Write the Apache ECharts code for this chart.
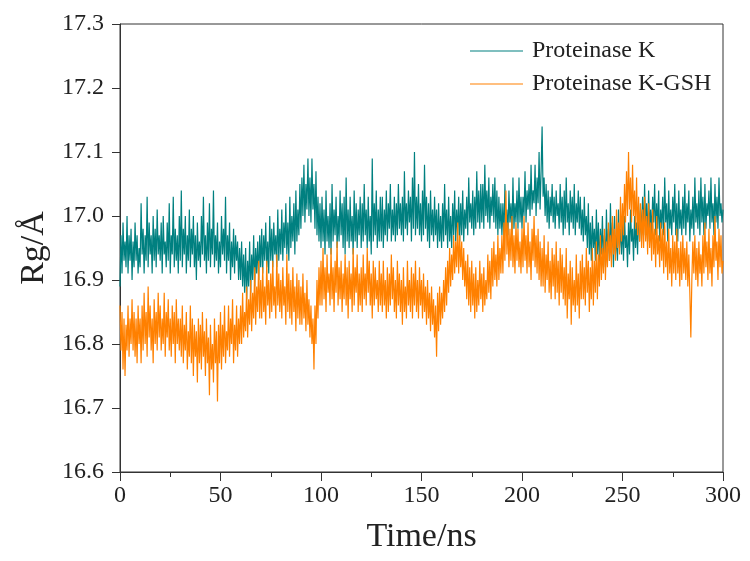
<!DOCTYPE html>
<html><head><meta charset="utf-8">
<script src="https://cdn.jsdelivr.net/npm/echarts@6/dist/echarts.min.js"></script>
<style>html,body{margin:0;padding:0;background:#fff}#c{width:750px;height:561px}</style>
</head><body><div id="c"></div>
<script>
// Time step of the trajectory (ns) and the two Rg series (Å), one value per 0.5 ns from 0 to 300 (20 values = 10 ns per row)
const timeStepNs = 0.5;
const xTicks = [0, 50, 100, 150, 200, 250, 300];
const yTicks = [16.6, 16.7, 16.8, 16.9, 17.0, 17.1, 17.2, 17.3];
const seriesNames = ['Proteinase K', 'Proteinase K-GSH'];
const rgProteinaseK = [
16.89,16.97,16.91,16.99,16.93,16.96,16.92,17.00,16.91,16.97,16.93,16.98,16.90,16.96,16.92,16.99,16.93,16.97,16.91,16.95,
16.92,17.02,16.94,16.98,16.91,16.97,16.93,17.03,16.92,16.99,16.94,16.97,16.91,17.00,16.93,16.98,16.92,17.01,16.94,16.97,
16.93,16.99,16.91,17.00,16.94,16.96,16.92,16.99,16.93,17.02,16.91,16.97,16.94,17.03,16.92,16.98,16.93,16.97,16.91,17.00,
16.93,17.04,16.92,16.98,16.94,17.00,16.91,16.97,16.93,17.01,16.92,16.98,16.94,17.00,16.92,16.97,16.90,16.99,16.93,16.96,
16.92,17.00,16.94,17.03,16.93,16.97,16.91,16.99,16.93,17.02,16.92,16.98,16.94,17.04,16.92,16.97,16.93,16.99,16.91,16.96,
16.92,17.00,16.94,16.98,16.93,17.03,16.91,16.97,16.93,16.99,16.90,16.96,16.92,16.98,16.91,16.97,16.93,16.96,16.90,16.95,
16.90,16.96,16.89,16.94,16.88,16.95,16.87,16.93,16.89,16.96,16.88,16.94,16.90,16.97,16.89,16.95,16.91,16.96,16.90,16.97,
16.92,16.98,16.91,16.97,16.93,16.99,16.92,16.96,16.91,17.00,16.93,16.98,16.92,16.99,16.94,16.97,16.92,17.01,16.93,16.98,
16.94,17.01,16.93,16.99,16.95,17.02,16.94,16.99,16.93,17.03,16.95,17.00,16.96,17.02,16.94,17.04,16.96,17.01,16.97,17.05,
16.98,17.06,17.00,17.08,16.99,17.05,17.01,17.09,17.00,17.06,16.99,17.09,17.01,17.05,16.98,17.07,16.97,17.03,16.96,17.02,
16.95,17.03,16.96,17.01,16.94,17.04,16.96,17.00,16.95,17.02,16.94,17.05,16.96,17.01,16.97,17.03,16.95,17.00,16.96,17.04,
16.97,17.02,16.95,17.03,16.94,17.06,16.96,17.01,16.95,17.03,16.96,17.00,16.94,17.04,16.96,17.02,16.95,17.01,16.97,17.03,
16.95,17.02,16.96,17.05,16.97,17.01,16.95,17.03,16.96,17.00,16.94,17.09,16.96,17.02,16.97,17.04,16.95,17.01,16.96,17.03,
16.96,17.03,16.95,17.01,16.97,17.04,16.96,17.02,16.98,17.05,16.96,17.01,16.97,17.03,16.96,17.02,16.97,17.05,16.98,17.02,
16.97,17.03,16.96,17.07,16.98,17.02,16.97,17.04,16.99,17.03,16.96,17.06,16.98,17.10,16.97,17.03,16.98,17.05,16.97,17.02,
16.96,17.04,16.97,17.08,16.98,17.03,16.96,17.02,16.95,17.04,16.97,17.01,16.96,17.03,16.97,17.01,16.95,17.02,16.96,17.00,
16.95,17.02,16.96,17.05,16.97,17.01,16.95,17.03,16.96,17.00,16.95,17.02,16.97,17.04,16.96,17.01,16.97,17.03,16.96,17.02,
16.97,17.04,16.96,17.01,16.98,17.03,16.97,17.06,16.99,17.02,16.98,17.04,16.97,17.03,16.98,17.07,16.99,17.04,16.98,17.05,
16.99,17.05,16.98,17.08,17.00,17.04,16.99,17.06,16.98,17.03,17.00,17.05,16.99,17.06,16.98,17.04,16.97,17.03,16.98,17.02,
16.97,17.02,16.96,17.05,16.98,17.01,16.97,17.04,16.99,17.02,16.97,17.06,16.98,17.02,16.99,17.04,16.98,17.06,16.99,17.03,
16.98,17.03,17.00,17.07,16.99,17.04,17.01,17.05,17.00,17.08,17.01,17.04,17.02,17.08,17.00,17.06,17.02,17.10,17.01,17.07,
17.14,17.03,17.06,17.00,17.05,16.99,17.04,16.98,17.03,17.00,17.05,16.99,17.03,16.98,17.04,17.00,17.02,16.98,17.05,16.99,
17.03,16.97,17.04,16.98,17.06,16.99,17.02,16.97,17.04,16.99,17.03,16.98,17.05,16.97,17.02,16.99,17.04,16.98,17.03,16.97,
17.01,16.96,17.03,16.97,17.00,16.95,17.02,16.94,16.99,16.93,17.00,16.95,16.98,16.93,17.01,16.94,16.99,16.92,16.98,16.94,
17.00,16.93,16.97,16.92,17.01,16.94,16.98,16.93,17.02,16.95,16.99,16.92,17.00,16.94,16.97,16.93,17.01,16.95,16.98,16.94,
16.99,16.93,17.00,16.95,16.97,16.92,16.99,16.94,17.01,16.96,16.98,16.93,17.00,16.95,16.99,16.94,17.02,16.96,17.01,16.97,
17.03,16.97,17.05,16.98,17.02,16.96,17.04,16.98,17.01,16.97,17.03,16.99,17.05,16.97,17.02,16.98,17.04,16.96,17.01,16.98,
17.03,16.97,17.06,16.99,17.02,16.96,17.04,16.98,17.01,16.97,17.03,16.99,17.05,16.97,17.02,16.96,17.04,16.98,17.01,16.97,
17.03,16.98,17.05,16.97,17.02,16.99,17.04,16.96,17.01,16.98,17.03,16.97,17.06,16.99,17.02,16.98,17.04,16.97,17.06,16.99,
17.03,16.97,17.05,16.98,17.02,17.00,17.04,16.98,17.06,16.99,17.02,16.97,17.05,16.99,17.03,16.98,17.06,17.00,17.02,16.99,
17.01];
const rgProteinaseKGSH = [
16.86,16.79,16.85,16.76,16.84,16.75,16.83,16.79,16.86,16.78,16.84,16.80,16.87,16.79,16.85,16.78,16.84,16.77,16.86,16.80,
16.84,16.77,16.86,16.79,16.88,16.80,16.85,16.78,16.89,16.81,16.86,16.79,16.84,16.77,16.87,16.80,16.85,16.79,16.88,16.81,
16.86,16.79,16.84,16.80,16.88,16.78,16.85,16.81,16.87,16.79,16.84,16.78,16.86,16.80,16.85,16.77,16.87,16.80,16.84,16.79,
16.84,16.78,16.86,16.77,16.83,16.79,16.85,16.76,16.82,16.78,16.86,16.77,16.84,16.75,16.83,16.78,16.82,16.74,16.84,16.77,
16.83,16.76,16.85,16.78,16.82,16.75,16.84,16.77,16.81,16.72,16.83,16.76,16.80,16.74,16.84,16.77,16.82,16.71,16.83,16.77,
16.85,16.76,16.83,16.78,16.86,16.77,16.82,16.79,16.86,16.78,16.84,16.80,16.87,16.77,16.83,16.79,16.86,16.78,16.84,16.80,
16.86,16.80,16.88,16.81,16.85,16.82,16.89,16.81,16.87,16.83,16.90,16.82,16.88,16.84,16.92,16.83,16.89,16.85,16.93,16.84,
16.90,16.84,16.92,16.85,16.89,16.83,16.93,16.86,16.90,16.84,16.91,16.85,16.93,16.86,16.89,16.84,16.94,16.86,16.91,16.85,
16.90,16.84,16.92,16.86,16.89,16.83,16.94,16.85,16.91,16.84,16.90,16.83,16.92,16.85,16.89,16.82,16.91,16.84,16.90,16.83,
16.89,16.83,16.91,16.84,16.88,16.82,16.90,16.83,16.87,16.81,16.86,16.80,16.84,16.76,16.86,16.80,16.90,16.84,16.92,16.86,
16.93,16.86,16.95,16.87,16.92,16.85,16.94,16.88,16.91,16.86,16.95,16.87,16.92,16.85,16.93,16.88,16.96,16.86,16.92,16.87,
16.93,16.85,16.91,16.87,16.94,16.86,16.92,16.84,16.93,16.87,16.91,16.85,16.95,16.86,16.92,16.88,16.94,16.85,16.91,16.86,
16.92,16.85,16.94,16.87,16.91,16.86,16.95,16.88,16.93,16.86,16.91,16.84,16.93,16.86,16.92,16.87,16.90,16.85,16.93,16.86,
16.91,16.85,16.93,16.86,16.90,16.84,16.92,16.85,16.91,16.86,16.94,16.87,16.92,16.85,16.90,16.84,16.93,16.86,16.91,16.85,
16.90,16.83,16.92,16.85,16.89,16.84,16.93,16.86,16.90,16.85,16.92,16.84,16.91,16.86,16.93,16.85,16.90,16.84,16.92,16.86,
16.90,16.84,16.91,16.85,16.89,16.83,16.90,16.84,16.88,16.82,16.89,16.83,16.87,16.81,16.86,16.78,16.88,16.82,16.89,16.83,
16.88,16.84,16.90,16.85,16.92,16.86,16.93,16.88,16.95,16.89,16.94,16.90,16.97,16.91,16.96,16.92,16.99,16.91,16.97,16.92,
16.96,16.90,16.95,16.89,16.93,16.87,16.94,16.86,16.92,16.85,16.93,16.86,16.91,16.84,16.92,16.85,16.90,16.86,16.93,16.87,
16.91,16.85,16.92,16.86,16.90,16.87,16.94,16.88,16.93,16.87,16.95,16.89,16.96,16.90,16.94,16.89,16.97,16.90,16.95,16.91,
16.97,16.91,16.99,16.93,17.04,16.94,16.99,16.92,16.98,16.93,17.00,16.92,16.97,16.91,16.99,16.93,16.98,16.92,16.96,16.91,
16.98,16.92,17.00,16.93,16.97,16.91,16.99,16.92,16.96,16.90,16.98,16.93,17.00,16.92,16.97,16.91,16.98,16.90,16.96,16.89,
16.95,16.89,16.97,16.88,16.94,16.90,16.96,16.88,16.93,16.87,16.95,16.89,16.94,16.87,16.96,16.88,16.93,16.86,16.95,16.88,
16.94,16.87,16.92,16.86,16.95,16.84,16.91,16.87,16.93,16.83,16.92,16.86,16.90,16.85,16.94,16.86,16.91,16.84,16.93,16.87,
16.94,16.87,16.92,16.86,16.95,16.88,16.93,16.85,16.92,16.87,16.95,16.86,16.93,16.88,16.96,16.87,16.94,16.89,16.97,16.90,
16.95,16.91,16.98,16.90,16.96,16.92,16.99,16.93,16.97,16.92,17.00,16.94,16.98,16.93,17.01,16.95,16.99,16.94,17.03,16.96,
17.02,16.97,17.05,16.99,17.07,17.00,17.10,17.01,17.06,16.99,17.08,17.00,17.04,16.98,17.06,16.97,17.03,16.96,17.02,16.95,
17.01,16.95,17.03,16.96,17.00,16.94,17.02,16.95,16.99,16.93,17.01,16.94,16.98,16.92,17.00,16.94,16.97,16.92,16.99,16.93,
16.98,16.91,16.99,16.92,16.96,16.90,16.98,16.91,16.95,16.89,16.97,16.91,16.96,16.90,16.98,16.91,16.95,16.89,16.96,16.90,
16.97,16.91,16.95,16.90,16.96,16.89,16.94,16.88,16.81,16.90,16.96,16.91,16.97,16.90,16.95,16.89,16.96,16.91,16.94,16.89,
16.97,16.91,16.99,16.92,16.96,16.90,16.98,16.91,16.95,16.89,16.97,16.92,17.00,16.93,16.96,16.90,16.98,16.92,16.97,16.91,
16.93];
const colors = ['#008080', '#FF8000'];

const toPairs = arr => arr.map((v, i) => [i * timeStepNs, v]);
const font = '"Liberation Serif", "Times New Roman", serif';

const chart = echarts.init(document.getElementById('c'), null, {renderer: 'canvas'});
chart.setOption({
  animation: false,
  backgroundColor: '#fff',
  color: colors,
  grid: {left: 120, right: 27, top: 24, bottom: 89, show: true, borderColor: '#333', borderWidth: 1, backgroundColor: 'transparent'},
  legend: {
    orient: 'vertical', left: 465, top: 34, itemWidth: 53, itemHeight: 24, itemGap: 9,
    icon: 'path://M0,7 L52,7 L52,8 L0,8 Z',
    textStyle: {fontFamily: font, fontSize: 24, lineHeight: 24, color: '#222', padding: [0, 0, 0, 4]},
    data: seriesNames
  },
  xAxis: {
    type: 'value', min: xTicks[0], max: xTicks[xTicks.length - 1], interval: 50,
    name: 'Time/ns', nameLocation: 'middle', nameGap: 48,
    nameTextStyle: {fontFamily: font, fontSize: 34, color: '#222'},
    axisLine: {show: true, onZero: false, lineStyle: {color: '#333', width: 1}},
    axisTick: {show: true, inside: false, length: 9, lineStyle: {color: '#333'}},
    minorTick: {show: true, splitNumber: 2, length: 5, lineStyle: {color: '#333'}},
    axisLabel: {fontFamily: font, fontSize: 24, color: '#222', margin: 12},
    splitLine: {show: false}
  },
  yAxis: {
    type: 'value', min: yTicks[0], max: yTicks[yTicks.length - 1], interval: 0.1,
    name: 'Rg/Å', nameLocation: 'middle', nameGap: 69, nameRotate: 90,
    nameTextStyle: {fontFamily: font, fontSize: 34, color: '#222'},
    axisLine: {show: true, onZero: false, lineStyle: {color: '#333', width: 1}},
    axisTick: {show: true, inside: false, length: 8, lineStyle: {color: '#333'}},
    axisLabel: {fontFamily: font, fontSize: 24, color: '#222', margin: 16, formatter: v => v.toFixed(1)},
    splitLine: {show: false}
  },
  series: [
    {name: seriesNames[0], type: 'line', data: toPairs(rgProteinaseK), symbol: 'none', lineStyle: {width: 1.2, color: colors[0]}, itemStyle: {color: colors[0]}},
    {name: seriesNames[1], type: 'line', data: toPairs(rgProteinaseKGSH), symbol: 'none', lineStyle: {width: 1.2, color: colors[1]}, itemStyle: {color: colors[1]}}
  ]
});
</script></body></html>
